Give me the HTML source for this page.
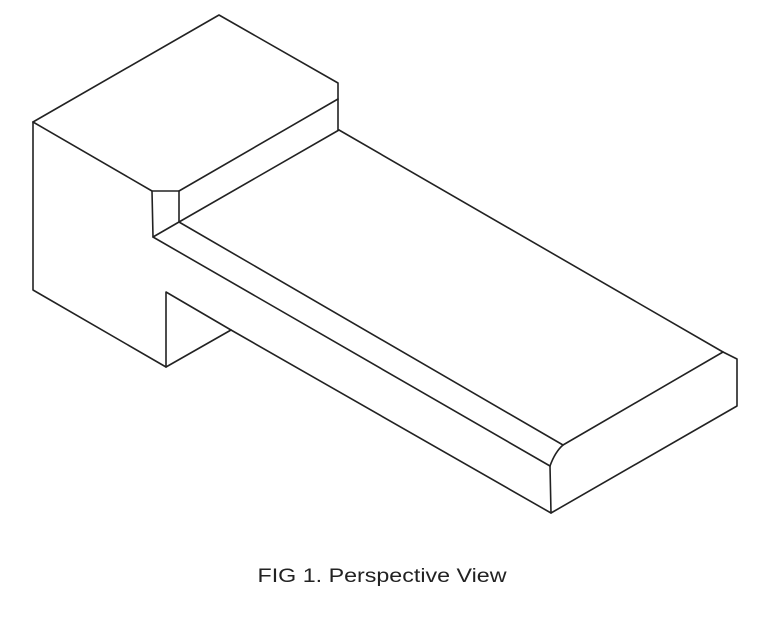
<!DOCTYPE html>
<html><head><meta charset="utf-8"><style>
html,body{margin:0;padding:0;background:#fff;}
svg{display:block;}
</style></head><body>
<svg width="770" height="629" viewBox="0 0 770 629" xmlns="http://www.w3.org/2000/svg">
<g fill="none" stroke="#222" stroke-width="1.6" stroke-linejoin="round" stroke-linecap="round">
<polyline points="33,122 219,15 338,83 338,130"/>
<polyline points="33,122 152,191 179,191 179,222"/>
<polyline points="152,191 153,237 179,222"/>
<line x1="179" y1="191" x2="338" y2="99"/>
<line x1="179" y1="222" x2="339" y2="130"/>
<polyline points="33,122 33,290 166,367 166,292 231,330"/>
<line x1="166" y1="367" x2="231" y2="330"/>
<line x1="179" y1="222" x2="563" y2="445"/>
<line x1="153" y1="237" x2="550" y2="466"/>
<line x1="231" y1="330" x2="551" y2="513"/>
<path d="M550,466 Q555,452 563,445"/>
<line x1="339" y1="130" x2="723" y2="352"/>
<line x1="563" y1="445" x2="723" y2="352"/>
<polyline points="723,352 737,359 737,406 551,513 550,466"/>
</g>
<text x="382" y="582" text-anchor="middle" font-family="Liberation Sans, sans-serif" font-size="19" fill="#222" textLength="249" lengthAdjust="spacingAndGlyphs">FIG 1. Perspective View</text>
</svg>
</body></html>
